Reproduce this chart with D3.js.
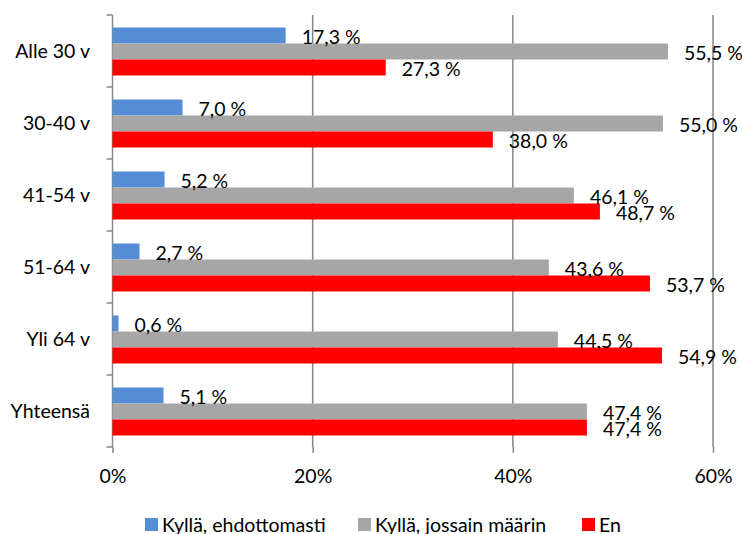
<!DOCTYPE html>
<html><head><meta charset="utf-8">
<script src="https://cdn.jsdelivr.net/npm/d3@7/dist/d3.min.js"></script>
<style>
html,body{margin:0;padding:0;background:#fff;}
svg{display:block;font-family:Lato,"Open Sans",sans-serif;}
</style></head>
<body><svg id="c" width="742" height="534"></svg>
<script>
const categories = ["Alle 30 v","30-40 v","41-54 v","51-64 v","Yli 64 v","Yhteensä"];
const seriesNames = ["Kyllä, ehdottomasti","Kyllä, jossain määrin","En"];
const seriesColors = ["#558ED5","#A6A6A6","#FF0000"];
const kyllaEhdottomasti = [17.3, 7.0, 5.2, 2.7, 0.6, 5.1];
const kyllaJossain = [55.5, 55.0, 46.1, 43.6, 44.5, 47.4];
const en = [27.3, 38.0, 48.7, 53.7, 54.9, 47.4];
const xTicks = [0, 20, 40, 60];

const seriesValues = [kyllaEhdottomasti, kyllaJossain, en];
const svg = d3.select("#c");
const W = 742, H = 534;
const FS = 19.5;
const m = {left:112.5, right:29, top:15, bottom:87};
const x = d3.scaleLinear().domain([0,60]).range([m.left, W - m.right]);
const y = d3.scaleBand().domain(categories).range([m.top, H - m.bottom]).padding(0);
const inner = d3.scaleBand().domain(seriesNames).range([12.5, 60.5]).padding(0);
const axisColor = "#868686";
const fmt = v => d3.format(".1f")(v).replace(".", ",") + " %";

// gridlines
svg.append("g").selectAll("line").data(xTicks.filter(t => t > 0)).join("line")
  .attr("x1", d => x(d)).attr("x2", d => x(d))
  .attr("y1", m.top).attr("y2", H - m.bottom)
  .attr("stroke", axisColor).attr("stroke-width", 1.5);

// x axis (ticks and labels, no domain line)
const xAxis = d3.axisBottom(x).tickValues(xTicks).tickSize(6).tickFormat(d => d + "%");
const gx = svg.append("g").attr("transform", `translate(0,${H - m.bottom})`).call(xAxis);
gx.select(".domain").remove();
gx.selectAll(".tick line").attr("stroke", axisColor).attr("stroke-width", 1.5);
gx.selectAll(".tick text").attr("font-size", FS).attr("fill", "#000").attr("font-family", "Lato,sans-serif")
  .attr("y", 36).attr("dy", 0);

// y axis
const gy = svg.append("g");
gy.append("line").attr("x1", m.left).attr("x2", m.left).attr("y1", m.top).attr("y2", H - m.bottom)
  .attr("stroke", axisColor).attr("stroke-width", 1.5);
const bounds = [m.top].concat(categories.map(c => y(c) + y.bandwidth()));
gy.selectAll("line.tk").data(bounds).join("line").attr("class","tk")
  .attr("x1", m.left - 6).attr("x2", m.left).attr("y1", d => d).attr("y2", d => d)
  .attr("stroke", axisColor).attr("stroke-width", 1.5);
gy.selectAll("text").data(categories).join("text")
  .attr("x", 90).attr("y", d => y(d) + y.bandwidth()/2)
  .attr("dy", "0.36em").attr("text-anchor", "end").attr("font-size", FS).attr("fill", "#000")
  .text(d => d);

// bars
const groups = svg.append("g").selectAll("g").data(categories).join("g")
  .attr("transform", d => `translate(0,${y(d)})`);
groups.selectAll("rect").data((c, i) => seriesNames.map((s, j) => ({s, j, v: seriesValues[j][i]}))).join("rect")
  .attr("x", x(0)).attr("y", d => inner(d.s)).attr("height", inner.bandwidth())
  .attr("width", d => x(d.v) - x(0)).attr("fill", d => seriesColors[d.j]);
groups.selectAll("text").data((c, i) => seriesNames.map((s, j) => ({s, j, v: seriesValues[j][i]}))).join("text")
  .attr("x", d => x(d.v) + 16).attr("y", d => inner(d.s) + inner.bandwidth()/2 + 1.5)
  .attr("dy", "0.36em").attr("font-size", FS).attr("fill", "#000")
  .text(d => fmt(d.v));

// legend
const legendX = [145, 358, 582];
const lg = svg.append("g").selectAll("g").data(seriesNames).join("g")
  .attr("transform", (d, i) => `translate(${legendX[i]},518)`);
lg.append("rect").attr("width", 13).attr("height", 13).attr("fill", (d, i) => seriesColors[i]);
lg.append("text").attr("x", 17).attr("y", 13.5).attr("font-size", FS).attr("fill", "#000").text(d => d);
</script>
</body></html>
